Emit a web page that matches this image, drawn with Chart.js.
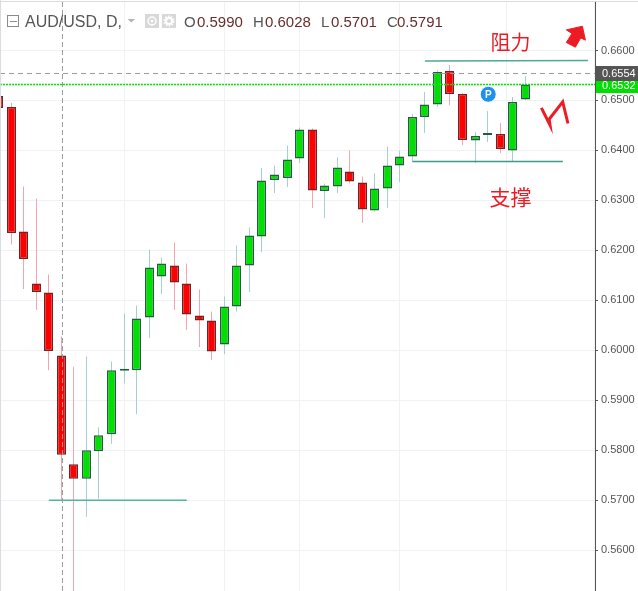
<!DOCTYPE html>
<html lang="zh-CN">
<head>
  <meta charset="UTF-8">
  <title>AUD/USD, D</title>
  <script src="https://cdn.jsdelivr.net/npm/chart.js"></script>
  <style>
    html, body { margin: 0; padding: 0; background: #fff; }
    #wrap { position: relative; width: 638px; height: 591px; overflow: hidden; }
    canvas { display: block; }
  </style>
</head>
<body>
  <div id="wrap"><canvas id="grafico" width="638" height="591"></canvas></div>

  <script>
    // bar numbers run from -1 (cut off by the left edge) up to 41
    const bars   = [-1,0,1,2,3,4,5,6,7,8,9,10,11,12,13,14,15,16,17,18,19,20,21,22,23,24,25,26,27,28,29,30,31,32,33,34,35,36,37,38,39,40,41];
    const opens  = [.6509,.6487,.6238,.6134,.6116,.5990,.5772,.5743,.5798,.5832,.5959,.5960,.6066,.6148,.6170,.6134,.6070,.6060,.6012,.6088,.6170,.6228,.6341,.6345,.6384,.6442,.6319,.6328,.6358,.6336,.6280,.6324,.6370,.6388,.6467,.6492,.6559,.6513,.6420,.6431,.6433,.6400,.6502];
    const highs  = [.6509,.6495,.6328,.6304,.6152,.6028,.5967,.5988,.5846,.5978,.6074,.6090,.6202,.6186,.6216,.6174,.6122,.6078,.6108,.6210,.6246,.6365,.6370,.6410,.6446,.6444,.6334,.6386,.6400,.6348,.6354,.6408,.6400,.6473,.6517,.6561,.6571,.6515,.6437,.6479,.6455,.6507,.6549];
    const lows   = [.6485,.6212,.6123,.6081,.5960,.5701,.5515,.5667,.5703,.5813,.5934,.5872,.6025,.6113,.6081,.6041,.6007,.5981,.5993,.6078,.6117,.6197,.6315,.6327,.6375,.6285,.6265,.6315,.6334,.6255,.6278,.6285,.6337,.6377,.6435,.6487,.6491,.6411,.6375,.6417,.6395,.6378,.6501];
    const closes = [.6485,.6235,.6183,.6117,.5999,.5791,.5743,.5800,.5830,.5960,.5959,.6064,.6166,.6174,.6136,.6072,.6060,.5998,.6088,.6170,.6230,.6340,.6352,.6382,.6442,.6320,.6330,.6366,.6338,.6282,.6324,.6370,.6388,.6467,.6492,.6557,.6513,.6421,.6429,.6431,.6403,.6497,.6532];

    const priceTicks = [.56,.57,.58,.59,.60,.61,.62,.63,.64,.65,.66];
    const gridBars   = [4,14,20,26,36,43];
    const xMin = -0.893, xMax = 46.566;
    const yMin = 0.55186, yMax = 0.66970;

    // drawn levels
    const crosshairBar = 4.09, crosshairPrice = 0.6554, lastPrice = 0.6532;
    const resistBars = [33,46],  resistPrices = [.6579,.6580];
    const supportBars = [32,44], supportPrices = [.6378,.6378];
    const lowBars = [3,14],      lowPrices = [.5700,.5700];
    const arrowBars   = [44.28,45.56,45.80,45.43,45.00,44.28,44.73,44.28];
    const arrowPrices = [.66412,.66486,.66206,.66252,.66066,.66160,.66340,.66412];
    const zigBars   = [42.29,42.98,42.91,43.99,44.41];
    const zigPrices = [.64852,.64505,.64625,.64972,.64539];
    const dividendBar = 38.05, dividendPrice = 0.65124;

    const RED = '#ff0000', GREEN = '#00e000';
    const up = closes.map((c, i) => c >= opens[i]);
    const xy = (xs, ys) => xs.map((x, i) => ({ x: x, y: ys[i] }));

    const lineSet = (data, color, extra) => Object.assign({
      type: 'line', data: data, borderColor: color, borderWidth: 1,
      pointRadius: 0, tension: 0, fill: false, order: 1
    }, extra);

    // keep candles on whole pixels, like the original
    const snapBars = {
      id: 'snapBars',
      afterDatasetsUpdate(chart) {
        [0, 1].forEach(n => chart.getDatasetMeta(n).data.forEach(el => { el.x = Math.floor(el.x) + 0.5; }));
      }
    };

    const texts = {
      id: 'texts',
      afterDraw(chart) {
        const c = chart.ctx;
        c.save();
        // frame
        c.fillStyle = '#d9dce3';
        c.fillRect(0, 1, 638, 1);
        c.fillRect(0, 0, 1, 591);

        // price boxes
        c.fillStyle = GREEN;
        c.fillRect(596, 81, 42, 12);
        c.fillStyle = '#555555';
        c.fillRect(596, 66, 42, 15);
        c.textBaseline = 'middle';
        c.textAlign = 'left';
        c.font = '11px "Liberation Sans"';
        c.fillStyle = '#ffffff';
        c.fillText(lastPrice.toFixed(4), 602, 86);
        c.fillText(crosshairPrice.toFixed(4), 602, 74);

        // legend
        c.strokeStyle = '#8a8a8a';
        c.lineWidth = 1;
        c.strokeRect(7.5, 15.5, 11, 11);
        c.beginPath(); c.moveTo(10, 21.5); c.lineTo(17, 21.5); c.stroke();

        c.font = '16px "Liberation Sans"';
        c.fillStyle = '#555555';
        c.textBaseline = 'alphabetic';
        c.fillText('AUD/USD, D,', 25, 27);
        c.fillStyle = '#b4b4b4';
        c.beginPath(); c.moveTo(127.5, 19); c.lineTo(135, 19); c.lineTo(131.2, 22.5); c.closePath(); c.fill();

        c.fillStyle = '#d8d8d8';
        c.fillRect(145, 14, 14, 14);
        c.fillRect(162, 14, 14, 14);
        c.strokeStyle = '#ffffff';
        c.lineWidth = 1.5;
        c.beginPath(); c.arc(152, 21, 4, 0, Math.PI * 2); c.stroke();
        c.fillStyle = '#ffffff';
        c.beginPath(); c.arc(152, 21, 1.5, 0, Math.PI * 2); c.fill();
        c.lineWidth = 2;
        c.setLineDash([1.6, 1.2]);
        c.beginPath(); c.arc(169, 21, 4.5, 0, Math.PI * 2); c.stroke();
        c.setLineDash([]);
        c.lineWidth = 2;
        c.beginPath(); c.arc(169, 21, 3, 0, Math.PI * 2); c.stroke();

        const legend = [['O', 184, '0.5990', 197], ['H', 253, '0.6028', 265], ['L', 321, '0.5701', 331], ['C', 387, '0.5791', 397]];
        c.font = '15px "Liberation Sans"';
        legend.forEach(([k, kx, v, vx]) => {
          c.fillStyle = '#555555';
          c.fillText(k, kx, 27);
          c.fillStyle = '#6b2b2b';
          c.fillText(v, vx, 27);
        });

        // notes written on the chart
        c.fillStyle = '#ed1c24';
        c.textAlign = 'center';
        c.textBaseline = 'middle';
        c.font = '20px "Noto Sans CJK SC"';
        c.fillText('阻力', 510.5, 42);
        c.font = '21px "Noto Sans CJK SC"';
        c.fillText('支撑', 510.5, 197);

        // dividend marker letter
        const px = chart.scales.x.getPixelForValue(dividendBar);
        const py = chart.scales.y.getPixelForValue(dividendPrice);
        c.fillStyle = '#ffffff';
        c.font = 'bold 10px "Liberation Sans"';
        c.fillText('P', px, py + 0.5);
        c.restore();
      }
    };

    new Chart(document.getElementById('grafico').getContext('2d'), {
      type: 'bar',
      data: {
        datasets: [
          {
            // wicks
            data: bars.map((b, i) => ({ x: b, y: [lows[i], highs[i]] })),
            backgroundColor: up.map(u => u ? '#a6cfd3' : '#f4a4ae'),
            barThickness: 1, borderWidth: 0, inflateAmount: 0, grouped: false, order: 3
          },
          {
            // bodies
            data: bars.map((b, i) => ({ x: b, y: [opens[i], closes[i]] })),
            backgroundColor: up.map(u => u ? GREEN : RED),
            borderColor: up.map(u => u ? '#1f5f40' : '#7a1f1f'),
            barThickness: 9, borderWidth: 1.5, borderSkipped: false, minBarLength: 2,
            inflateAmount: 0, grouped: false, order: 2
          },
          lineSet(xy([xMin, xMax], [crosshairPrice, crosshairPrice]), '#9b9b9b', { borderDash: [5, 4] }),
          lineSet(xy([crosshairBar, crosshairBar], [yMin, yMax]), '#9b9b9b', { borderDash: [5, 3] }),
          lineSet(xy([xMin, xMax], [lastPrice, lastPrice]), '#00e600', { borderDash: [2, 1], borderWidth: 1.4 }),
          lineSet(xy(resistBars, resistPrices), '#4fa898', { borderWidth: 1.5 }),
          lineSet(xy(supportBars, supportPrices), '#3e9a87', { borderWidth: 1.5 }),
          lineSet(xy(lowBars, lowPrices), '#4fb5a0', { borderWidth: 1.5 }),
          lineSet(xy(arrowBars, arrowPrices), '#ed1c24', { backgroundColor: '#ed1c24', fill: 'shape' }),
          lineSet(xy(zigBars, zigPrices), '#ed1c24', { borderWidth: 3 }),
          lineSet([{ x: dividendBar, y: dividendPrice }], '#ffffff', {
            pointRadius: 8, pointBackgroundColor: '#1e90ef', pointBorderColor: '#ffffff', pointBorderWidth: 1, showLine: false
          })
        ]
      },
      options: {
        responsive: false,
        animation: false,
        layout: { autoPadding: false, padding: { top: 2, left: 0, right: 0, bottom: 0 } },
        plugins: { legend: { display: false }, tooltip: { enabled: false }, title: { display: false } },
        scales: {
          x: {
            type: 'linear', min: xMin, max: xMax, offset: false,
            afterBuildTicks(scale) { scale.ticks = gridBars.map(v => ({ value: v })); },
            afterFit(scale) { scale.height = 0; scale.paddingLeft = 0; scale.paddingRight = 0; },
            ticks: { display: false },
            border: { display: false },
            grid: { color: '#f0f1f2', drawTicks: false }
          },
          y: {
            position: 'right', min: yMin, max: yMax,
            afterBuildTicks(scale) { scale.ticks = priceTicks.map(v => ({ value: v })); },
            afterFit(scale) { scale.width = 43; scale.paddingTop = 0; scale.paddingBottom = 0; },
            ticks: {
              color: '#555555', padding: 3, autoSkip: false,
              font: { family: '"Liberation Sans"', size: 11 },
              callback: v => v.toFixed(4)
            },
            border: { color: '#555555', width: 1 },
            grid: { color: '#f0f1f2', tickColor: '#555555', tickLength: 3 }
          }
        }
      },
      plugins: [snapBars, texts]
    });
  </script>
</body>
</html>
